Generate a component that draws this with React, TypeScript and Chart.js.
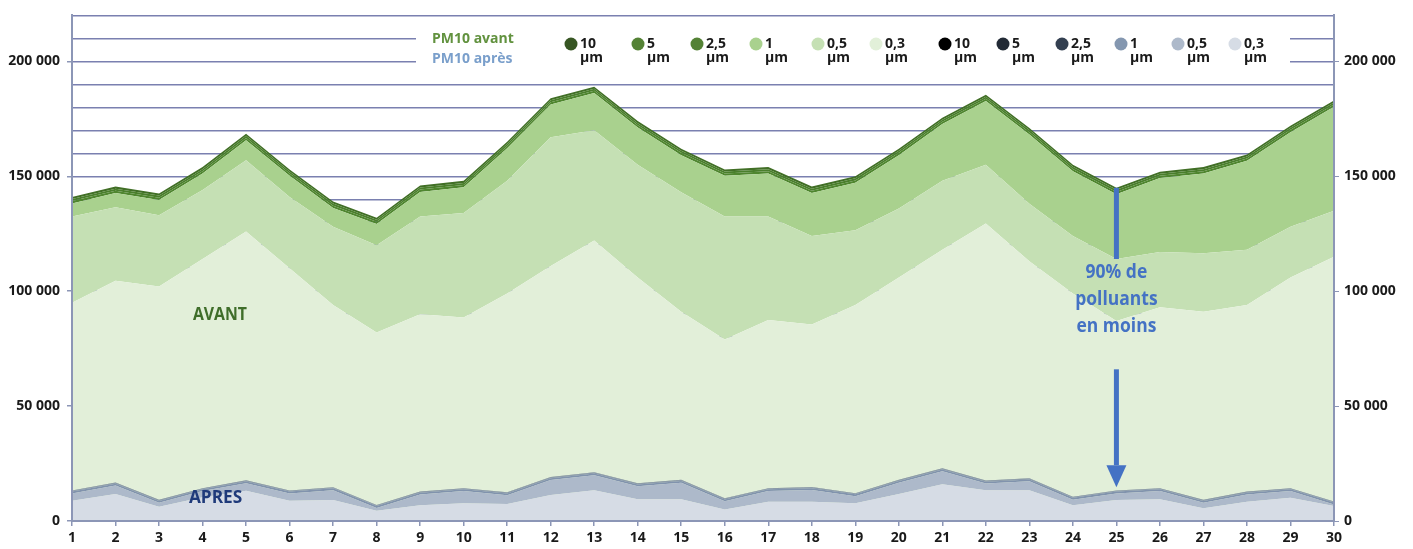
import React, { useEffect, useRef } from 'react';
import { Chart, registerables } from 'chart.js';

Chart.register(...registerables);

// ---- Data ----
const days = ['1','2','3','4','5','6','7','8','9','10','11','12','13','14','15','16','17','18','19','20','21','22','23','24','25','26','27','28','29','30'];

// PM10 avant – per particle size (stacked layers)
const avant03 = [95000,104500,102000,114000,126000,110000,94000,82000,90000,88500,99000,111000,122000,106000,91000,79000,87500,85500,94000,106000,118000,129500,113000,99000,87000,93000,91000,94000,106000,115000];
const avant05 = [37500,32000,31000,30000,31000,31000,34000,38000,42500,45500,49000,56000,48000,49000,52000,53500,45000,38500,32500,30000,30000,25500,25000,25000,27000,24000,25500,24000,22000,20000];
const avant1 = [5700,6200,6700,7200,8700,9200,8200,9200,10700,11200,14200,14200,16200,16200,16200,17700,18700,18700,20700,23200,24700,27700,30200,28200,28200,32200,34700,38700,41200,45200];
const avant25 = [1000,1000,1000,1000,1000,1000,1000,1000,1000,1000,1000,1000,1000,1000,1000,1000,1000,1000,1000,1000,1000,1000,1000,1000,1000,1000,1000,1000,1000,1000];
const avant5 = [900,900,900,900,900,900,900,900,900,900,900,900,900,900,900,900,900,900,900,900,900,900,900,900,900,900,900,900,900,900];
const avant10 = [900,900,900,900,900,900,900,900,900,900,900,900,900,900,900,900,900,900,900,900,900,900,900,900,900,900,900,900,900,900];

// PM10 après – per particle size (stacked layers)
const apres03 = [8800,11800,6200,10300,13200,8800,9100,4500,6900,7700,7400,11300,13400,9500,9500,5000,8400,8400,7700,11700,16000,13400,13400,6900,9100,9500,5500,8400,10100,6500];
const apres05 = [3200,3600,1700,2700,3200,3200,4300,1200,4600,5300,3800,6500,6500,5600,7100,3600,4600,5100,3100,4900,5600,2900,3900,2400,2900,3500,2400,3100,2900,700];
const apres1 = [800,800,800,800,800,800,800,800,800,800,800,800,800,800,800,800,800,800,800,800,800,800,800,800,800,800,800,800,800,800];
const apres25 = [250,250,250,250,250,250,250,250,250,250,250,250,250,250,250,250,250,250,250,250,250,250,250,250,250,250,250,250,250,250];
const apres5 = [150,150,150,150,150,150,150,150,150,150,150,150,150,150,150,150,150,150,150,150,150,150,150,150,150,150,150,150,150,150];
const apres10 = [100,100,100,100,100,100,100,100,100,100,100,100,100,100,100,100,100,100,100,100,100,100,100,100,100,100,100,100,100,100];

const labeledTicks = [0, 50000, 100000, 150000, 200000];
const legendSizes = ['10', '5', '2,5', '1', '0,5', '0,3'];

// annotation values
const arrowDay = 24; // index of day 25
const reductionBottom = 114000;
const arrowStart = 66000;
const arrowHeadTop = 24300;
const arrowTip = 14700;
const noteLines = ['90% de', 'polluants', 'en moins'];
const noteValues = [108000, 96300, 84600];
const avantLabelPos = [3.4, 89400];
const apresLabelPos = [3.3, 10000];

// ---- Styles ----
const avantFill = ['#e2efd9', '#c5e0b4', '#a9d18e', '#4f862f', '#4a7f2c', '#416f26'];
const apresFill = ['#d6dce5', '#adb9ca', '#8193ad', '#74849e', '#6b7a93', '#5d6b84'];
const avantLegend = ['#375623', '#548235', '#548235', '#a9d18e', '#c5e0b4', '#e2f0d9'];
const apresLegend = ['#000000', '#222a35', '#333f50', '#8497b0', '#adb9ca', '#d6dce5'];
const gridColor = '#7a80b0';
const axisColor = '#8c96b6';
const font = '"Open Sans", "DejaVu Sans", sans-serif';

function fmt(v: number): string {
  return String(v).replace(/\B(?=(\d{3})+(?!\d))/g, ' ');
}

function condensedText(ctx: CanvasRenderingContext2D, text: string, x: number, y: number, sx: number) {
  ctx.save();
  ctx.translate(x, y);
  ctx.scale(sx, 1);
  ctx.fillText(text, 0, 0);
  ctx.restore();
}

const overlayPlugin = {
  id: 'overlay',
  afterDatasetsDraw(chart: any) {
    const { ctx, chartArea, scales } = chart;
    const x = scales.x;
    const y = scales.y;
    ctx.save();

    // axis lines on top of fills
    ctx.strokeStyle = axisColor;
    ctx.lineWidth = 2;
    ctx.beginPath();
    ctx.moveTo(chartArea.left, chartArea.top);
    ctx.lineTo(chartArea.left, chartArea.bottom);
    ctx.lineTo(chartArea.right, chartArea.bottom);
    ctx.lineTo(chartArea.right, chartArea.top);
    ctx.stroke();

    // legend box
    ctx.fillStyle = '#ffffff';
    ctx.fillRect(416, 26, 874, 46);
    ctx.textBaseline = 'middle';
    ctx.textAlign = 'left';
    ctx.font = `bold 14px ${font}`;
    ctx.fillStyle = '#62923f';
    ctx.fillText('PM10 avant', 432, 39);
    ctx.fillStyle = '#7a9fcb';
    ctx.fillText('PM10 après', 432, 59);

    const cxs = [571, 638, 697, 756, 818, 876, 945, 1003, 1062, 1121, 1178, 1235];
    cxs.forEach((cx, i) => {
      const col = i < 6 ? avantLegend[i] : apresLegend[i - 6];
      ctx.beginPath();
      ctx.arc(cx, 44, 6.5, 0, Math.PI * 2);
      ctx.fillStyle = col;
      ctx.fill();
      ctx.fillStyle = '#1a1a1a';
      ctx.font = `bold 14px ${font}`;
      ctx.fillText(legendSizes[i % 6], cx + 9, 44);
      ctx.fillText('µm', cx + 9, 58);
    });

    // AVANT / APRES labels
    ctx.textAlign = 'center';
    ctx.font = `bold 17px ${font}`;
    ctx.fillStyle = '#3f6e2a';
    condensedText(ctx, 'AVANT', x.getPixelForValue(avantLabelPos[0]), y.getPixelForValue(avantLabelPos[1]), 0.93);
    ctx.font = `bold 18px ${font}`;
    ctx.fillStyle = '#1f3a7a';
    condensedText(ctx, 'APRES', x.getPixelForValue(apresLabelPos[0]), y.getPixelForValue(apresLabelPos[1]), 0.96);

    // reduction arrow
    const ax = x.getPixelForValue(arrowDay);
    const total25 = avant03[arrowDay] + avant05[arrowDay] + avant1[arrowDay] + avant25[arrowDay] + avant5[arrowDay] + avant10[arrowDay];
    ctx.strokeStyle = '#4472c4';
    ctx.fillStyle = '#4472c4';
    ctx.lineWidth = 5;
    ctx.beginPath();
    ctx.moveTo(ax, y.getPixelForValue(total25));
    ctx.lineTo(ax, y.getPixelForValue(reductionBottom));
    ctx.stroke();
    ctx.beginPath();
    ctx.moveTo(ax, y.getPixelForValue(arrowStart));
    ctx.lineTo(ax, y.getPixelForValue(arrowHeadTop));
    ctx.stroke();
    ctx.beginPath();
    ctx.moveTo(ax - 10, y.getPixelForValue(arrowHeadTop));
    ctx.lineTo(ax + 10, y.getPixelForValue(arrowHeadTop));
    ctx.lineTo(ax, y.getPixelForValue(arrowTip));
    ctx.closePath();
    ctx.fill();

    ctx.font = `bold 19px ${font}`;
    noteLines.forEach((t, i) => {
      condensedText(ctx, t, ax, y.getPixelForValue(noteValues[i]), 0.92);
    });

    ctx.restore();
  },
};

export default function App() {
  const canvasRef = useRef<HTMLCanvasElement | null>(null);

  useEffect(() => {
    const canvas = canvasRef.current;
    if (!canvas) return;

    const apresLayers = [apres03, apres05, apres1, apres25, apres5, apres10];
    const avantLayers = [avant03, avant05, avant1, avant25, avant5, avant10];
    const sizeNames = ['0,3 µm', '0,5 µm', '1 µm', '2,5 µm', '5 µm', '10 µm'];

    const datasets: any[] = [];
    apresLayers.forEach((data, i) => {
      datasets.push({
        label: 'PM10 après ' + sizeNames[i],
        data,
        stack: 'apres',
        fill: i === 0 ? 'origin' : i - 1,
        backgroundColor: apresFill[i],
        borderWidth: 0,
        pointRadius: 0,
        tension: 0,
      });
    });
    avantLayers.forEach((data, i) => {
      datasets.push({
        label: 'PM10 avant ' + sizeNames[i],
        data,
        stack: 'avant',
        fill: i === 0 ? 'origin' : 6 + i - 1,
        backgroundColor: avantFill[i],
        borderWidth: 0,
        pointRadius: 0,
        tension: 0,
      });
    });

    const tickFont = { family: font, size: 14, weight: 'bold' as const };

    const chart = new Chart(canvas, {
      type: 'line',
      data: { labels: days, datasets },
      options: {
        animation: false,
        responsive: false,
        maintainAspectRatio: false,
        layout: { padding: { top: 15, left: 0, right: 0, bottom: 0 } },
        plugins: {
          legend: { display: false },
          tooltip: { enabled: false },
        },
        scales: {
          x: {
            type: 'category',
            offset: false,
            grid: { drawOnChartArea: false, drawTicks: true, tickLength: 5, color: axisColor, lineWidth: 1.5 },
            border: { display: true, color: axisColor, width: 2 },
            ticks: { font: tickFont, color: '#1a1a1a', padding: 4, maxRotation: 0, autoSkip: false },
            afterFit: (s: any) => { s.height = 28; },
          },
          y: {
            stacked: true,
            position: 'left',
            min: 0,
            max: 220000,
            grid: {
              color: gridColor,
              lineWidth: 1.5,
              tickLength: 5,
              tickColor: (c: any) => (c.tick && labeledTicks.includes(c.tick.value) ? axisColor : 'rgba(0,0,0,0)'),
            },
            border: { display: true, color: axisColor, width: 2 },
            ticks: {
              stepSize: 10000,
              font: tickFont,
              color: '#1a1a1a',
              padding: 7,
              callback: (v: any) => (labeledTicks.includes(Number(v)) ? fmt(Number(v)) : ''),
            },
            afterFit: (s: any) => { s.width = 72; },
          },
          y2: {
            position: 'right',
            min: 0,
            max: 220000,
            grid: {
              drawOnChartArea: false,
              tickLength: 5,
              tickColor: (c: any) => (c.tick && labeledTicks.includes(c.tick.value) ? axisColor : 'rgba(0,0,0,0)'),
            },
            border: { display: true, color: axisColor, width: 2 },
            ticks: {
              stepSize: 10000,
              font: tickFont,
              color: '#1a1a1a',
              padding: 5,
              callback: (v: any) => (labeledTicks.includes(Number(v)) ? fmt(Number(v)) : ''),
            },
            afterFit: (s: any) => { s.width = 79; },
          },
        },
      },
      plugins: [overlayPlugin],
    });

    return () => chart.destroy();
  }, []);

  return (
    <div style={{ position: 'fixed', left: 0, top: 0, width: 1413, height: 549, background: '#ffffff' }}>
      <canvas ref={canvasRef} width={1413} height={549} style={{ display: 'block' }} />
    </div>
  );
}
